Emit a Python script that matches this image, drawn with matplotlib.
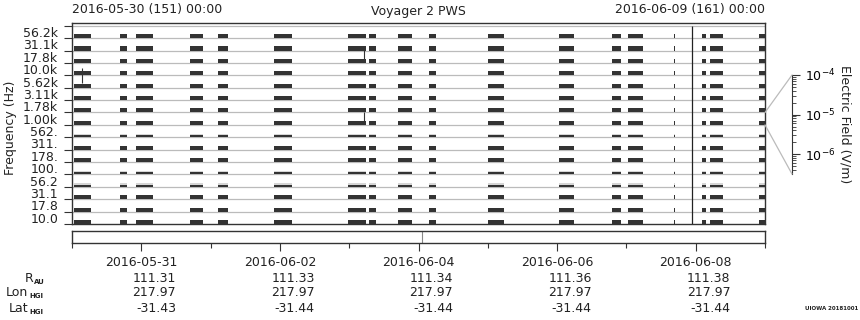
import numpy as np
import matplotlib.pyplot as plt
import matplotlib.transforms as mtransforms
from matplotlib.patches import ConnectionPatch

# frequency channels, bottom to top
freq_labels = ['10.0', '17.8', '31.1', '56.2', '100.', '178.', '311.', '562.',
               '1.00k', '1.78k', '3.11k', '5.62k', '10.0k', '17.8k', '31.1k', '56.2k']
# channels with weak signal (thin dark bar, faint grey above)
weak_channels = [3, 4, 7]

# data blocks, in days since 2016-05-30 00:00
block_start = [0.03, 0.69, 0.92, 1.70, 2.11, 2.91, 3.98, 4.29, 4.70, 5.15,
               6.00, 7.03, 7.79, 8.02, 8.685, 9.09, 9.21, 9.91]
block_end = [0.27, 0.79, 1.17, 1.89, 2.25, 3.17, 4.24, 4.39, 4.91, 5.25,
             6.23, 7.24, 7.92, 8.24, 8.705, 9.15, 9.40, 10.0]

# isolated spikes (day, channel-from, channel-to)
spike_day = [0.14, 4.21, 4.21]
spike_lo = [11.4, 13.25, 8.25]
spike_hi = [12.6, 14.06, 9.0]
full_line_day = 8.94
strip_mark_day = 5.05

# bottom annotation table
tick_days = [1, 3, 5, 7, 9]
tick_dates = ['2016-05-31', '2016-06-02', '2016-06-04', '2016-06-06', '2016-06-08']
r_au = ['111.31', '111.33', '111.34', '111.36', '111.38']
lon_hgi = ['217.97', '217.97', '217.97', '217.97', '217.97']
lat_hgi = ['-31.43', '-31.44', '-31.44', '-31.44', '-31.44']
row_names = ['R', 'Lon', 'Lat']
row_subs = ['AU', 'HGI', 'HGI']

W, H = 860, 320
DARK = '#333333'
GREY = '#bbbbbb'
TXT = '#222222'

plt.rcParams['font.size'] = 9
plt.rcParams['text.color'] = TXT
plt.rcParams['axes.edgecolor'] = DARK


def fx(px):
    return px / W


def fy(py):
    return 1 - py / H


fig = plt.figure(figsize=(8.6, 3.2), dpi=100)

# main strip-spectrum panel
ax = fig.add_axes([fx(72), fy(224), fx(765) - fx(72), fy(23.3) - fy(224)])
ax.set_xlim(0, 10)
ax.set_ylim(0, 16.2)
ax.hlines(np.arange(1, 17), 0, 10, color=GREY, lw=0.9, zorder=1)

blocks = [(s, e - s) for s, e in zip(block_start, block_end)]
for i in range(len(freq_labels)):
    if i in weak_channels:
        ax.broken_barh(blocks, (i, 0.30), facecolor='#d6d6d6', edgecolor='none', zorder=2)
        ax.broken_barh(blocks, (i, 0.16), facecolor=DARK, edgecolor='none', zorder=3)
    else:
        ax.broken_barh(blocks, (i, 0.33), facecolor=DARK, edgecolor='none', zorder=3)

ax.vlines(spike_day, spike_lo, spike_hi, color=DARK, lw=0.8, zorder=3)
ax.vlines(full_line_day, 0, 16, color='#222222', lw=0.9, zorder=4)

ax.set_xticks([])
ax.set_yticks(np.arange(len(freq_labels)) + 0.5, freq_labels)
ax.set_yticks(np.arange(0, 17), minor=True)
ax.tick_params(axis='y', which='major', length=0, pad=10, labelsize=9, labelcolor=TXT)
ax.tick_params(axis='y', which='minor', length=5.8, width=0.8, color=DARK)
for sp in ax.spines.values():
    sp.set_linewidth(1.0)

# time strip below
ax2 = fig.add_axes([fx(72), fy(243), fx(765) - fx(72), fy(231) - fy(243)])
ax2.set_xlim(0, 10)
ax2.set_yticks([])
ax2.axvline(strip_mark_day, color='#888888', lw=0.8)
ax2.set_xticks(tick_days, [''] * len(tick_days))
ax2.set_xticks(np.arange(0, 11, 2), minor=True)
ax2.tick_params(axis='x', which='major', length=5.8, width=0.8, color=DARK)
ax2.tick_params(axis='x', which='minor', length=3.6, width=0.8, color=DARK)
for sp in ax2.spines.values():
    sp.set_linewidth(1.0)

trans = mtransforms.blended_transform_factory(ax2.transData, fig.transFigure)
for d, lab, r, lo, la in zip(tick_days, tick_dates, r_au, lon_hgi, lat_hgi):
    fig.text(d, fy(266.5), lab, transform=trans, ha='center', va='baseline')
    fig.text(d + 0.5, fy(281.5), r, transform=trans, ha='right', va='baseline')
    fig.text(d + 0.5, fy(296.5), lo, transform=trans, ha='right', va='baseline')
    fig.text(d + 0.5, fy(311.5), la, transform=trans, ha='right', va='baseline')

# row names with small bold subscripts
name_right = [33.5, 28.5, 28.5]
for k, (nm, sub) in enumerate(zip(row_names, row_subs)):
    base = 281.5 + 15 * k
    fig.text(fx(name_right[k]), fy(base), nm, ha='right', va='baseline')
    fig.text(fx(name_right[k] + 0.8), fy(base + 2), sub, ha='left', va='baseline',
             fontsize=5, fontweight='bold')

# electric field amplitude scale
cax = fig.add_axes([fx(782), fy(174), fx(792) - fx(782), fy(75) - fy(174)])
cax.patch.set_visible(False)
cax.set_yscale('log')
cax.set_ylim(10 ** -6.5, 1e-4)
cax.set_xticks([])
for name, sp in cax.spines.items():
    sp.set_visible(name == 'right')
cax.spines['right'].set_linewidth(0.8)
cax.yaxis.tick_right()
cax.tick_params(axis='y', which='major', length=5.5, width=0.8, pad=4, labelsize=9, color=DARK)
cax.tick_params(axis='y', which='minor', length=2.8, width=0.6, color=DARK)

for ya, yb in [(9, 1), (8, 0)]:
    con = ConnectionPatch(xyA=(10, ya), coordsA=ax.transData,
                          xyB=(1, yb), coordsB=cax.transAxes,
                          color=GREY, lw=0.9)
    fig.add_artist(con)

fig.text(fx(845), fy(124), 'Electric Field (V/m)', rotation=270, ha='center', va='center')

# header and labels
fig.text(fx(72), fy(9), '2016-05-30 (151) 00:00', ha='left', va='center')
fig.text(fx(765), fy(9), '2016-06-09 (161) 00:00', ha='right', va='center')
fig.text(fx(418.5), fy(11.5), 'Voyager 2 PWS', ha='center', va='center')
fig.text(fx(11), fy(128), 'Frequency (Hz)', rotation=90, ha='center', va='center')
fig.text(fx(858), fy(310.5), 'UIOWA 20181001', fontsize=4, fontweight='bold',
         ha='right', va='baseline')

fig.savefig('out.png', dpi=100)
